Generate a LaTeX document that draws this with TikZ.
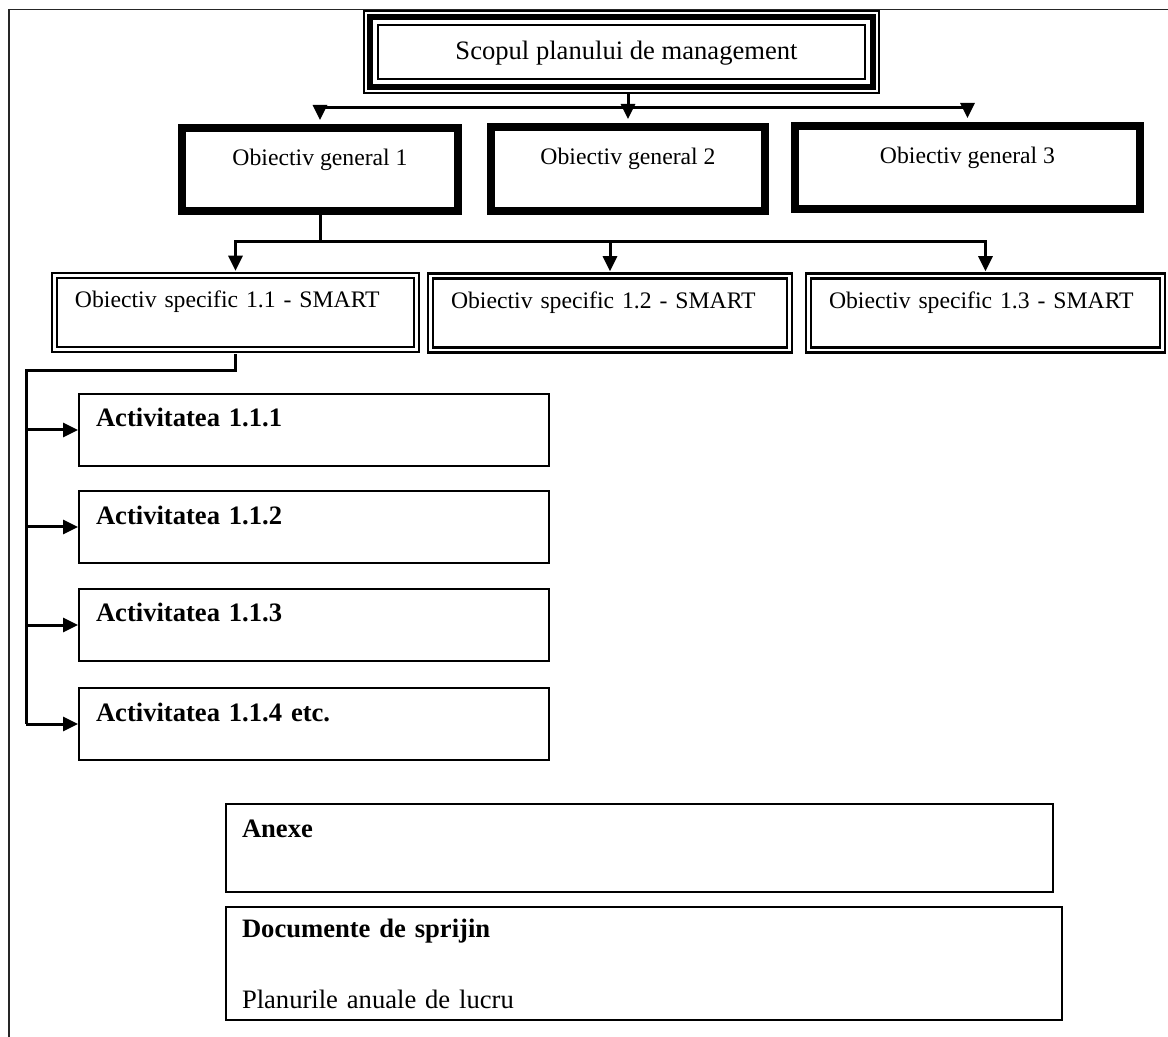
\documentclass[tikz,border=0pt]{standalone}
\usepackage{fontspec}
\setmainfont{Liberation Serif}
\usetikzlibrary{arrows.meta}
\begin{document}
\begin{tikzpicture}[x=0.5pt,y=-0.5pt,
  conn/.style={line width=1.5pt},
  arr/.style={conn,-{Triangle[length=7.5pt,width=7pt]}},
  bigfont/.style={font=\fontsize{13.3}{16}\selectfont},
  smallfont/.style={font=\fontsize{11.85}{14}\selectfont},
  frameline/.style={line width=0.7pt, black!85},
  scopebox/.style={draw, line width=0.6pt, inner sep=0pt, bigfont, minimum width=257.5pt, minimum height=41pt,
    text height=9pt, text depth=1.5pt},
  ogbox/.style={draw, line width=4pt, inner sep=0pt, smallfont, text height=8pt, text depth=12pt, minimum height=41.5pt},
  osbox/.style={draw, double, line width=1.15pt, double distance=1.25pt, inner xsep=10.25pt, inner ysep=0pt,
    smallfont, align=left, text height=8pt, text depth=12.5pt, minimum height=37pt},
  actbox/.style={draw, line width=1pt, inner xsep=8.5pt, inner ysep=0pt, bigfont, align=left,
    text width=218pt, minimum width=235pt, minimum height=36pt, text height=9pt, text depth=12pt},
  docbox/.style={draw, line width=1pt, inner xsep=8pt, inner ysep=0pt, bigfont, align=left}
]
\useasboundingbox (0,0) rectangle (1168,1037);

% page frame
\draw[frameline] (8,9.5) -- (1168,9.5);
\draw[frameline] (9,9) -- (9,1037);

% goal
\node[scopebox] (scope) at (621.5,52) {\hspace*{5pt}Scopul planului de management};
\draw[line width=3pt] ([shift={(3.5pt,-3.5pt)}]scope.north west) rectangle ([shift={(-3.5pt,3.5pt)}]scope.south east);
\draw[line width=1pt] ([shift={(7.5pt,-7.5pt)}]scope.north west) rectangle ([shift={(-7.5pt,7.5pt)}]scope.south east);

% general objectives
\node[ogbox, minimum width=138pt] (og1) at (320,169.5) {Obiectiv general 1};
\node[ogbox, minimum width=137pt, minimum height=42pt] (og2) at (628,169) {Obiectiv general 2};
\node[ogbox, minimum width=172.5pt] (og3) at (967.5,167.5) {Obiectiv general 3};
\foreach \n in {og1,og2,og3}
  \draw[line width=1pt] ([shift={(3.5pt,-3.5pt)}]\n.north west) rectangle ([shift={(-3.5pt,3.5pt)}]\n.south east);

% specific objectives
\node[osbox, text width=160.5pt, minimum width=181pt] (os1) at (235.5,312.5) {Obiectiv specific 1.1 - SMART};
\node[osbox, text width=159pt, minimum width=179.5pt] (os2) at (610,313) {Obiectiv specific 1.2 - SMART};
\node[osbox, text width=156.5pt, minimum width=177pt] (os3) at (985.5,313) {Obiectiv specific 1.3 - SMART};

% activities
\node[actbox] (a1) at (314,430) {\bfseries Activitatea 1.1.1};
\node[actbox] (a2) at (314,527) {\bfseries Activitatea 1.1.2};
\node[actbox] (a3) at (314,625) {\bfseries Activitatea 1.1.3};
\node[actbox] (a4) at (314,724) {\bfseries Activitatea 1.1.4 etc.};

% annexes and documents
\node[docbox, text width=397.5pt, minimum width=413.5pt, minimum height=44pt, text height=9pt, text depth=20pt] (anexe) at (639.5,848) {\bfseries Anexe};
\node[docbox, text width=402pt, minimum width=418pt, minimum height=56.5pt] (docs) at (644,963.5)
  {\textbf{Documente de sprijin}\\[19.5pt]Planurile anuale de lucru};

% connectors
\coordinate (j1) at (628,108);
\draw[arr, shorten >=2pt] (og2.north |- scope.south) -- (og2.north);
\draw[arr, shorten >=2pt] (j1) -| (og1.north);
\draw[arr, shorten >=2pt] (j1) -| (og3.north);

\coordinate (j2) at (320,242);
\draw[conn] (og1.south) -- (j2);
\draw[arr, shorten >=1.8pt] (j2) -| (os1.north);
\draw[arr, shorten >=1.8pt] (j2) -| (os2.north);
\draw[arr, shorten >=1.8pt] (j2) -| (os3.north);

\coordinate (j3) at (26,371);
\draw[conn, shorten <=1.8pt] (os1.south) |- (j3) -- (j3 |- a4.west);
\foreach \a in {a1,a2,a3,a4}
  \draw[arr] (j3 |- \a.west) -- (\a.west);
\end{tikzpicture}
\end{document}
